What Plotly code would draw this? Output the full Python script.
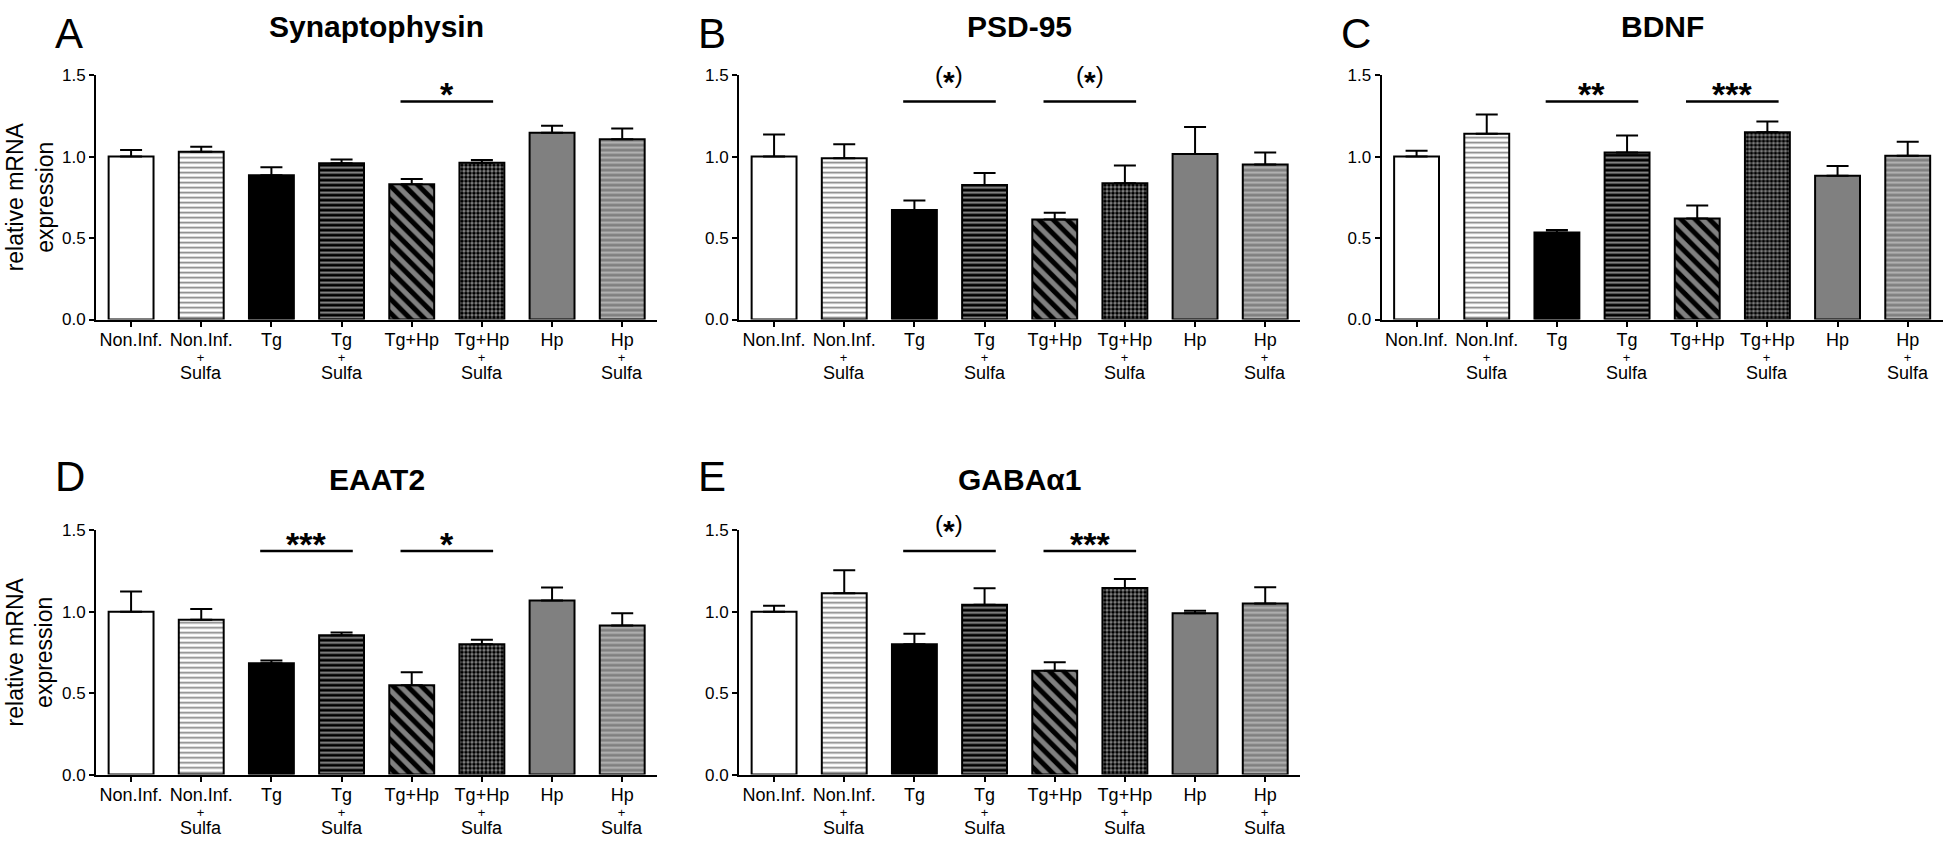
import plotly.graph_objects as go

# ---------------- data ----------------
categories = ["Non.Inf.", "Non.Inf. + Sulfa", "Tg", "Tg + Sulfa",
              "Tg+Hp", "Tg+Hp + Sulfa", "Hp", "Hp + Sulfa"]
y_tick_values = [0.0, 0.5, 1.0, 1.5]

panel_letters = ["A", "B", "C", "D", "E"]
panel_titles = ["Synaptophysin", "PSD-95", "BDNF", "EAAT2", "GABAα1"]

syn_mean = [1.00, 1.03, 0.885, 0.96, 0.83, 0.962, 1.146, 1.106]
syn_err = [0.04, 0.03, 0.05, 0.022, 0.032, 0.018, 0.044, 0.066]
psd_mean = [1.00, 0.99, 0.672, 0.826, 0.614, 0.836, 1.016, 0.952]
psd_err = [0.136, 0.086, 0.058, 0.074, 0.042, 0.11, 0.166, 0.074]
bdnf_mean = [1.00, 1.14, 0.534, 1.026, 0.62, 1.15, 0.882, 1.006]
bdnf_err = [0.036, 0.118, 0.016, 0.104, 0.08, 0.066, 0.06, 0.086]
eaat_mean = [1.00, 0.95, 0.684, 0.856, 0.548, 0.80, 1.068, 0.916]
eaat_err = [0.124, 0.066, 0.016, 0.016, 0.08, 0.028, 0.08, 0.074]
gaba_mean = [1.00, 1.114, 0.80, 1.042, 0.638, 1.146, 0.99, 1.05]
gaba_err = [0.036, 0.14, 0.064, 0.102, 0.052, 0.054, 0.016, 0.10]

syn_sig = [(4, 5, "*")]
psd_sig = [(2, 3, "(*)"), (4, 5, "(*)")]
bdnf_sig = [(2, 3, "**"), (4, 5, "***")]
eaat_sig = [(2, 3, "***"), (4, 5, "*")]
gaba_sig = [(2, 3, "(*)"), (4, 5, "***")]
sig_levels = [1.338, 1.338, 1.338, 1.372, 1.372]

means = [syn_mean, psd_mean, bdnf_mean, eaat_mean, gaba_mean]
errs = [syn_err, psd_err, bdnf_err, eaat_err, gaba_err]
sigs = [syn_sig, psd_sig, bdnf_sig, eaat_sig, gaba_sig]

# ---------------- styles / layout ----------------
W, H = 1946, 841
FONT = "Liberation Sans, Arial, sans-serif"

col_px = [(96, 657.3), (739, 1300.3), (1381.5, 1942.8)]
row_px = [(67.7, 317.7), (533.3, 783.3)]
grid = [(0, 0), (0, 1), (0, 2), (1, 0), (1, 1)]
letter_top_px = [0, 453]
title_top_px = [0, 463]

bar_fill = ["white", "white", "black", "black", "#808080", "#3c3c3c", "#808080", "#808080"]
pat_shape = ["", "-", "", "-", "\\", ".", "", "-"]
pat_fg = ["black", "#858585", "black", "#8c8c8c", "black", "black", "black", "#b4b4b4"]
pat_bg = ["white", "white", "black", "black", "#808080", "#8a8a8a", "#808080", "#808080"]
pat_size = [5, 5, 5, 5, 10, 4, 5, 5]
pat_sol = [0.3, 0.35, 0.3, 0.4, 0.5, 0.62, 0.3, 0.4]

idx = list(range(len(categories)))
first_lines = [c.split(" + ")[0] for c in categories]

fig = go.Figure()
annotations = []
shapes = []
layout = {}


def ann(text, x, y, xref, yref, size, **kw):
    d = dict(text=text, x=x, y=y, xref=xref, yref=yref, showarrow=False,
             font=dict(size=size, family=FONT, color="black"))
    d.update(kw)
    annotations.append(d)


for k in range(5):
    s = "" if k == 0 else str(k + 1)
    r, c = grid[k]
    x0, x1 = col_px[c]
    y0, y1 = row_px[r]
    for i in idx:
        marker = dict(color=bar_fill[i], line=dict(color="black", width=2))
        if pat_shape[i]:
            marker["pattern"] = dict(shape=pat_shape[i], fgcolor=pat_fg[i], bgcolor=pat_bg[i],
                                     size=pat_size[i], solidity=pat_sol[i], fillmode="replace")
        fig.add_trace(go.Bar(
            x=[i], y=[means[k][i]], width=0.64, xaxis="x" + s, yaxis="y" + s,
            name=categories[i], marker=marker,
            error_y=dict(type="data", array=[errs[k][i]], arrayminus=[0],
                         symmetric=False, color="black", thickness=2, width=11),
            hoverinfo="skip", showlegend=False))

    layout["xaxis" + s] = dict(
        domain=[x0 / W, x1 / W], range=[-0.5, len(idx) - 0.5], anchor="y" + s,
        tickmode="array", tickvals=idx, ticktext=first_lines,
        ticks="outside", ticklen=5, tickwidth=2, tickcolor="black",
        ticklabelstandoff=-2,
        showline=True, linewidth=2, linecolor="black",
        showgrid=False, zeroline=False, fixedrange=True,
        tickfont=dict(size=18, family=FONT, color="black"))
    layout["yaxis" + s] = dict(
        domain=[1 - y1 / H, 1 - y0 / H], range=[0, 1.5], anchor="x" + s,
        tickmode="array", tickvals=y_tick_values,
        ticktext=[f"{v:.1f}" for v in y_tick_values],
        ticks="outside", ticklen=5, tickwidth=2, tickcolor="black",
        showline=True, linewidth=2, linecolor="black",
        showgrid=False, zeroline=False, fixedrange=True,
        tickfont=dict(size=17, family=FONT, color="black"))

    # "+" and "Sulfa" lines under the tick labels
    for i, cat in enumerate(categories):
        parts = cat.split(" + ")
        if len(parts) > 1:
            ann("+<br><span style='font-size:18px'>" + parts[1] + "</span>", i, 0,
                "x" + s, "y" + s, 13, xanchor="center", yanchor="top",
                yshift=-29, borderpad=0)

    # panel letter and title
    ann(panel_letters[k], (x0 - 42) / W, 1 - letter_top_px[r] / H, "paper", "paper", 42,
        xanchor="left", yanchor="top", borderpad=0)
    ann("<b>" + panel_titles[k] + "</b>", (x0 + x1) / 2 / W, 1 - title_top_px[r] / H,
        "paper", "paper", 30, xanchor="center", yanchor="top", borderpad=0)

    # y-axis title for left column
    if c == 0:
        ym = 1 - (y0 + y1) / 2 / H
        ann("relative mRNA<br>expression", 30 / W, ym, "paper", "paper", 23,
            textangle=-90, xanchor="center", yanchor="middle", borderpad=0)

    # significance bars
    lvl = sig_levels[k]
    for (i, j, lab) in sigs[k]:
        shapes.append(dict(type="line", xref="x" + s, yref="y" + s,
                           x0=i - 0.16, x1=j + 0.16, y0=lvl, y1=lvl,
                           line=dict(color="black", width=2.5)))
        if lab.startswith("("):
            txt = "(<span style='font-size:30px;font-weight:bold;baseline-shift:-9px'>*</span>)"
            ann(txt, (i + j) / 2, lvl, "x" + s, "y" + s, 24,
                xanchor="center", yanchor="bottom", yshift=3, borderpad=0)
        else:
            ann("<b>" + lab + "</b>", (i + j) / 2, lvl, "x" + s, "y" + s, 34,
                xanchor="center", yanchor="middle", yshift=7.5, borderpad=0)

fig.update_layout(width=W, height=H, margin=dict(l=0, r=0, t=0, b=0),
                  paper_bgcolor="white", plot_bgcolor="white",
                  font=dict(family=FONT, color="black"), barmode="overlay",
                  showlegend=False, annotations=annotations, shapes=shapes,
                  **layout)

fig.write_html("out.html", config={"displayModeBar": False},
               post_script="document.body.style.margin='0px';")
